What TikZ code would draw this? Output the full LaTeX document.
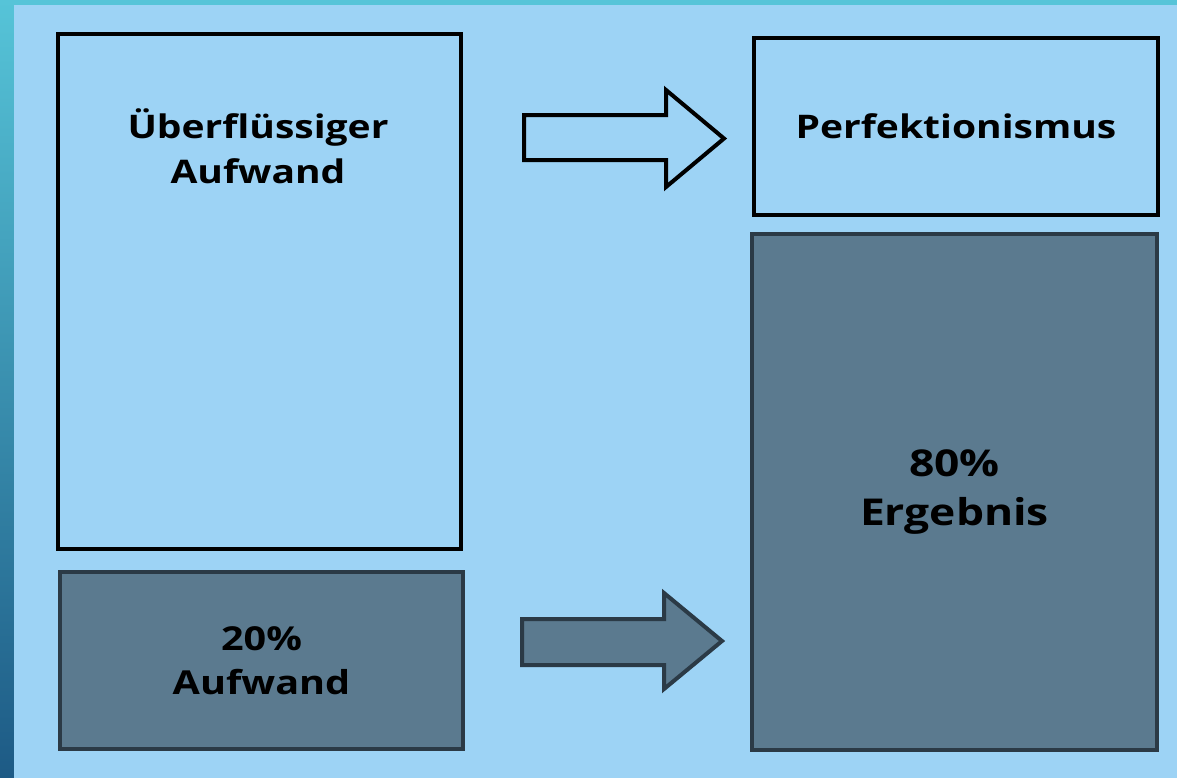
\documentclass[tikz,border=0pt]{standalone}
\usepackage{fontspec}
\setmainfont{Open Sans}[FakeStretch=1.2]
\definecolor{bglight}{HTML}{9DD3F5}
\definecolor{tealtop}{HTML}{56C4D8}
\definecolor{tealbot}{HTML}{1D5A85}
\definecolor{darkfill}{HTML}{5B7A8F}
\definecolor{darkline}{HTML}{2B3A46}
\tikzset{
  lightbox/.style={draw=black, line width=4pt, fill=bglight, inner sep=0pt},
  darkbox/.style={draw=darkline, line width=4pt, fill=darkfill, inner sep=0pt},
  lbl/.style={align=center, text=black, inner sep=0pt},
  lightarrow/.style={draw=black, line width=4pt, fill=bglight, line join=miter},
  darkarrow/.style={draw=darkline, line width=4pt, fill=darkfill, line join=miter}
}
\begin{document}
\begin{tikzpicture}[x=1pt,y=-1pt]
\useasboundingbox (0,0) rectangle (1177,777);
\shade[top color=tealtop, bottom color=tealbot] (0,-1) rectangle (1177,779);
\fill[tealtop] (0,-1) rectangle (1177,5);
\fill[bglight] (14,5) rectangle (1178,779);
% boxes
\node[lightbox, minimum width=403pt, minimum height=515pt] (b1) at (259.5,291.5) {};
\node[darkbox, minimum width=403pt, minimum height=177pt] (b2) at (261.5,660.5) {};
\node[lightbox, minimum width=404pt, minimum height=177pt] (b3) at (956,126.5) {};
\node[darkbox, minimum width=405pt, minimum height=516pt] (b4) at (954.5,492) {};
% labels
\node[lbl, font=\fontsize{32.5}{45}\selectfont\bfseries] (t1) at (258,146) {Überflüssiger\\Aufwand};
\node[lbl, font=\fontsize{33}{44}\selectfont\bfseries] (t2) at (b2.center) {20\%\\Aufwand};
\node[lbl, font=\fontsize{32.5}{45}\selectfont\bfseries] (t3) at (b3.center) {Perfektionismus};
\node[lbl, font=\fontsize{37}{49}\selectfont\bfseries] (t4) at (b4.center) {80\%\\Ergebnis};
% block arrows
\draw[lightarrow] (524,115) -- (666,115) -- (666,90) -- (724,138.5) -- (666,187) -- (666,160) -- (524,160) -- cycle;
\draw[darkarrow] (522,619) -- (664,619) -- (664,593) -- (722,641) -- (664,689) -- (664,665) -- (522,665) -- cycle;
\end{tikzpicture}
\end{document}
